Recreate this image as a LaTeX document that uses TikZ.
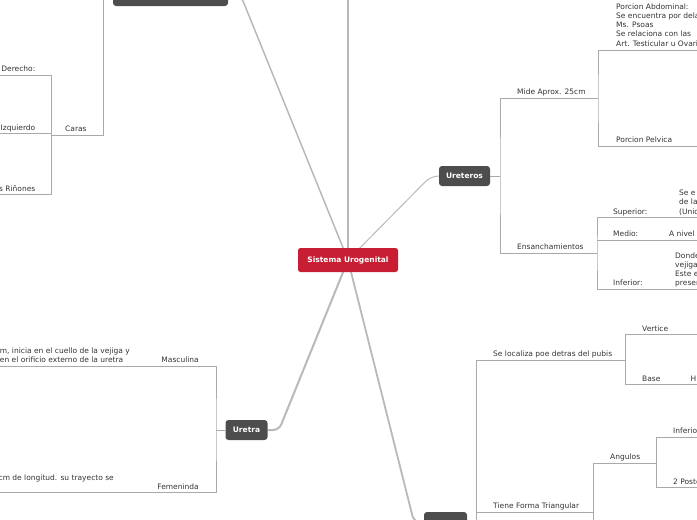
\documentclass[tikz,border=0pt]{standalone}
\usepackage{fontspec}
\setmainfont{DejaVu Sans}
\usetikzlibrary{backgrounds}

\definecolor{rootred}{RGB}{199,30,52}
\definecolor{topicgrey}{RGB}{77,77,77}
\definecolor{trunkgrey}{RGB}{185,185,185}
\definecolor{twiggrey}{RGB}{170,170,170}

\tikzset{
  root/.style={fill=rootred,text=white,rounded corners=2.5pt,minimum width=100pt,minimum height=24pt,inner sep=0pt,font=\fontsize{7.5}{9}\selectfont\bfseries},
  topic/.style={fill=topicgrey,text=white,rounded corners=3pt,minimum height=20pt,inner sep=0pt,font=\fontsize{7.5}{9}\selectfont\bfseries},
  leaf/.style={anchor=base west,inner sep=0pt,text=black!80},
  leafblock/.style={anchor=north west,inner sep=0pt,align=left,text=black!80},
  trunk/.style={draw=trunkgrey,rounded corners=6pt},
  twig/.style={draw=twiggrey,line width=.9pt}
}

\begin{document}
\begin{tikzpicture}[x=1pt,y=-1pt,font=\fontsize{7.5}{9.2}\selectfont]
\useasboundingbox (0,0) rectangle (697,520);
\clip (0,0) rectangle (697,520);

% central topic and main topics
\node[root] (sistema) at (348,260) {Sistema Urogenital};
\node[topic,minimum width=115pt] (rinones) at (170.5,-4) {};
\node[topic,minimum width=51pt] (ureteros) at (464.5,176) {Ureteros};
\node[topic,minimum width=42pt] (uretra) at (246.5,430) {Uretra};
\node[topic,minimum width=43pt] (vejiga) at (445.5,522) {};
\coordinate (arriba) at (348,-30);
\coordinate (rin-bend) at (241,-4);
\coordinate (ur-bend) at (430,177);
\coordinate (ut-bend) at (279,430);
\coordinate (vej-bend) at (414,522);

% rinones
\coordinate (rin-fork) at (103,-4);
\coordinate (caras-fork) at (51.5,135);
\node[leaf] (caras) at (65,131.5) {Caras};
\node[leaf,anchor=base east] (derecho) at (35.5,71.5) {Derecho:};
\node[leaf,anchor=base east] (izquierdo) at (35.5,130) {Izquierdo};
\node[leaf,anchor=base east] (rin-txt) at (35.5,191) {s Riñones};
\coordinate (der-end) at (-5,75);
\coordinate (izq-end) at (-5,133.5);
\coordinate (rtx-end) at (-5,194.5);

% ureteros
\coordinate (ur-fork) at (500,176);
\coordinate (mide-fork) at (598,98);
\coordinate (ens-fork) at (597,253);
\node[leaf] (mide) at (517,94.5) {Mide Aprox. 25cm};
\node[leaf] (ensanch) at (517,249.5) {Ensanchamientos};
\node[leafblock] (abdominal) at (616,3.4) {Porcion Abdominal:\\Se encuentra por dela\\Ms. Psoas\\Se relaciona con las\\Art. Testicular u Ovari};
\node[leaf] (pelvica) at (616,142.5) {Porcion Pelvica};
\coordinate (abd-end) at (700,50);
\coordinate (pel-end) at (700,146);
\node[leaf] (superior) at (613,214) {Superior:};
\node[leafblock] (sup-txt) at (679,190) {Se e\\de la\\(Unio};
\node[leaf] (medio) at (613,236.5) {Medio:};
\node[leaf] (med-txt) at (669,236.5) {A nivel};
\node[leaf] (inferior) at (613,285.5) {Inferior:};
\node[leafblock] (inf-txt) at (675,252.3) {Donde\\vejiga\\Este e\\presen};
\coordinate (sup-end) at (700,217.5);
\coordinate (med-end) at (700,240);
\coordinate (inf-end) at (700,289);

% uretra
\coordinate (ut-fork) at (216,430);
\node[leaf,anchor=base east] (masculina) at (199,362.5) {Masculina};
\node[leafblock,anchor=north east] (masc-txt) at (130,347.3) {m, inicia en el cuello de la vejiga y\\en el orificio externo de la uretra};
\node[leaf,anchor=base east] (femeninda) at (199,489) {Femeninda};
\node[leaf,anchor=base east] (fem-txt) at (114,480) {cm de longitud. su trayecto se};
\coordinate (masc-end) at (-5,366.5);
\coordinate (fem-end) at (-5,492);

% vejiga
\coordinate (vej-fork) at (476.5,522);
\coordinate (loc-fork) at (625.5,360);
\coordinate (tri-fork) at (593.5,512);
\coordinate (ang-fork) at (656.5,463);
\node[leaf] (localiza) at (493,356.5) {Se localiza poe detras del pubis};
\node[leaf] (tiene) at (493,508.5) {Tiene Forma Triangular};
\node[leaf] (vertice) at (642,331) {Vertice};
\node[leaf] (base) at (642,381) {Base};
\node[leaf] (base-txt) at (690.5,381) {H};
\node[leaf] (angulos) at (610,459.5) {Angulos};
\node[leaf] (ang-inf) at (673,433.5) {Inferio};
\node[leaf] (ang-post) at (673,484) {2 Poste};
\coordinate (ver-end) at (700,334.5);
\coordinate (bas-end) at (700,384.5);
\coordinate (ainf-end) at (700,437);
\coordinate (apos-end) at (700,487.5);
\coordinate (vej-low) at (476.5,530);
\coordinate (tri-low) at (593.5,530);

\begin{scope}[on background layer]
\draw[trunk,line width=2.4pt] (sistema.center) -- (arriba);
\draw[trunk,line width=1.5pt] (sistema.center) -- (rin-bend) -- (rinones.east);
\draw[trunk,line width=1pt] (sistema.center) -- (ur-bend) -- (ureteros.west);
\draw[trunk,line width=2pt] (sistema.center) -- (ut-bend) -- (uretra.east);
\draw[trunk,line width=1.8pt] (sistema.center) -- (vej-bend) -- (vejiga.west);

\draw[twig] (rinones.west) -- (rin-fork) |- (caras-fork);
\draw[twig] (der-end) -| (caras-fork) |- (rtx-end);
\draw[twig] (izq-end) -- (caras-fork |- izq-end);

\draw[twig] (ureteros.east) -- (ur-fork);
\draw[twig] (mide-fork) -| (ur-fork) |- (ens-fork);
\draw[twig] (abd-end) -| (mide-fork) |- (pel-end);
\draw[twig] (sup-end) -| (ens-fork) |- (inf-end);
\draw[twig] (ens-fork |- med-end) -- (med-end);

\draw[twig] (uretra.west) -- (ut-fork);
\draw[twig] (masc-end) -| (ut-fork) |- (fem-end);

\draw[twig] (vejiga.east) -- (vej-fork);
\draw[twig] (loc-fork) -| (vej-low);
\draw[twig] (vej-fork |- tri-fork) -- (tri-fork);
\draw[twig] (ver-end) -| (loc-fork) |- (bas-end);
\draw[twig] (ainf-end) -| (ang-fork) |- (apos-end);
\draw[twig] (ang-fork) -| (tri-low);
\end{scope}
\end{tikzpicture}
\end{document}
